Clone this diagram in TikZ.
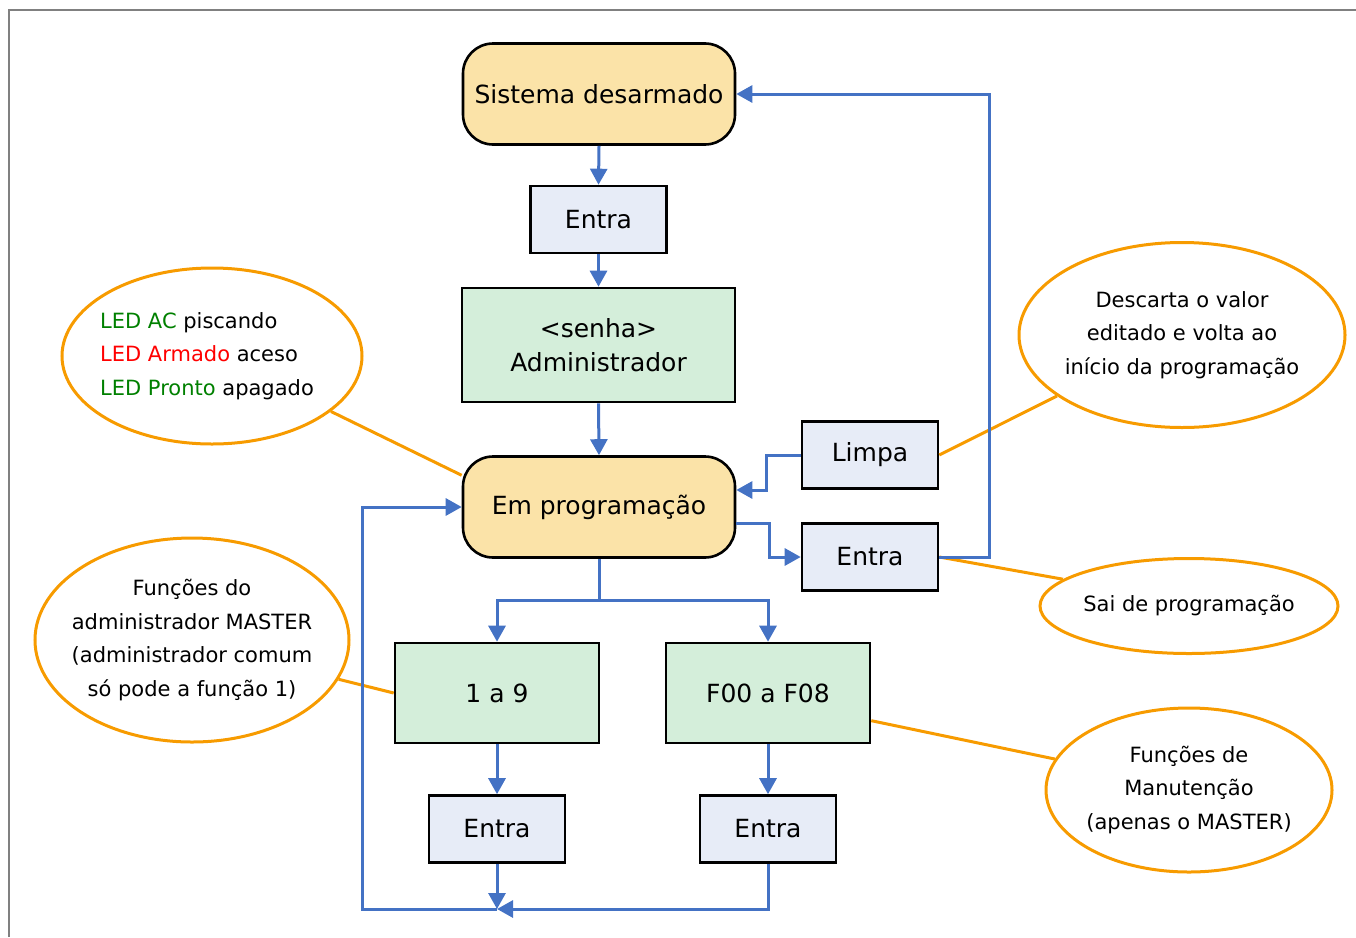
\documentclass[tikz,border=0pt]{standalone}
\usepackage{fontspec}
\setmainfont{DejaVu Sans}
\usetikzlibrary{shapes.geometric,arrows.meta,calc}
\definecolor{statefill}{RGB}{251,227,168}
\definecolor{keyfill}{RGB}{231,236,247}
\definecolor{actfill}{RGB}{212,238,218}
\definecolor{noteline}{RGB}{247,155,0}
\definecolor{flow}{RGB}{68,114,196}
\definecolor{ledgreen}{RGB}{0,128,0}
\definecolor{ledred}{RGB}{255,0,0}
\definecolor{framegray}{RGB}{128,128,128}
\tikzset{
  bigtxt/.style={font=\fontsize{25}{34}\selectfont},
  statebox/.style={draw=black,line width=2.6pt,fill=statefill,rounded corners=30pt,minimum width=272pt,minimum height=101pt,inner sep=0pt,bigtxt},
  keybox/.style={draw=black,line width=2.6pt,fill=keyfill,minimum width=136pt,minimum height=67pt,inner sep=0pt,bigtxt},
  actbox/.style={draw=black,line width=2.6pt,fill=actfill,inner sep=0pt,bigtxt,align=center},
  note/.style={ellipse,draw=noteline,line width=3pt,inner xsep=-40pt,inner ysep=-20pt,align=center,font=\fontsize{21}{33.5}\selectfont},
  noteln/.style={draw=noteline,line width=3pt},
  flowln/.style={draw=flow,line width=3pt},
  arr/.style={flowln,-{Triangle[length=16pt,width=17pt]}},
}
\begin{document}
\begin{tikzpicture}[x=1pt,y=-1pt]
\useasboundingbox (0,0) rectangle (1356,937);
\draw[framegray,line width=2.2pt] (9,937) -- (9,10) -- (1356,10);

% main nodes
\node[statebox] (sys) at (599,94) {Sistema desarmado};
\node[keybox] (entra1) at (598.5,219.5) {Entra};
\node[actbox,minimum width=273pt,minimum height=114pt] (senha) at (598.5,345) {<senha>\\Administrador};
\node[statebox] (prog) at (599,507) {Em programação};
\node[keybox] (limpa) at (870,455) {Limpa};
\node[keybox] (entra2) at (870,557) {Entra};
\node[actbox,minimum width=204pt,minimum height=100pt] (n19) at (497,693) {1 a 9};
\node[actbox,minimum width=204pt,minimum height=100pt] (f00) at (768,693) {F00 a F08};
\node[keybox] (entra3) at (497,829) {Entra};
\node[keybox] (entra4) at (768,829) {Entra};

% notes
\node[note,align=left,minimum width=300pt,minimum height=176pt] (led) at (212,356)
  {{\color{ledgreen}LED AC} piscando\\
   {\color{ledred}LED Armado} aceso\\
   {\color{ledgreen}LED Pronto} apagado\hspace*{10pt}};
\node[note,minimum width=326pt,minimum height=185pt] (desc) at (1182,335)
  {Descarta o valor\\editado e volta ao\\início da programação};
\node[note,minimum width=298pt,minimum height=95pt] (sai) at (1189,606)
  {Sai de programação};
\node[note,minimum width=314pt,minimum height=204pt] (fadm) at (192,640)
  {Funções do\\administrador MASTER\\(administrador comum\\só pode a função 1)};
\node[note,minimum width=286pt,minimum height=164pt] (fman) at (1189,790)
  {Funções de\\Manutenção\\(apenas o MASTER)};

% note connectors
\draw[noteln] (led.-25) -- (prog.167);
\draw[noteln] (limpa.east) -- (desc.-154);
\draw[noteln] (entra2.east) -- (sai.168);
\draw[noteln] (fadm.-15) -- (n19.west);
\draw[noteln] (f00.-15) -- (fman.167);

% flow
\draw[arr] (sys.south) -- (entra1.north);
\draw[arr] (entra1.south) -- (senha.north);
\draw[arr] (senha.south) -- (prog.north);
\draw[arr] (limpa.west) -- ++(-34,0) |- ($(prog.east)+(0,-17)$);
\draw[arr] ($(prog.east)+(0,16)$) -- ++(33,0) |- (entra2.west);
\draw[arr] (entra2.east) -- ++(50,0) |- (sys.east);
\draw[flowln] (prog.south) -- ++(0,42) coordinate (sp);
\draw[arr] (sp) -| (n19.north);
\draw[arr] (sp) -| (f00.north);
\draw[arr] (n19.south) -- (entra3.north);
\draw[arr] (f00.south) -- (entra4.north);
\coordinate (m) at (497,909);
\coordinate (lc) at (362,909);
\draw[arr] (entra3.south) -- (m);
\draw[arr] (entra4.south) |- (m);
\draw[arr] (m) -- (lc) |- (prog.west);
\end{tikzpicture}
\end{document}
